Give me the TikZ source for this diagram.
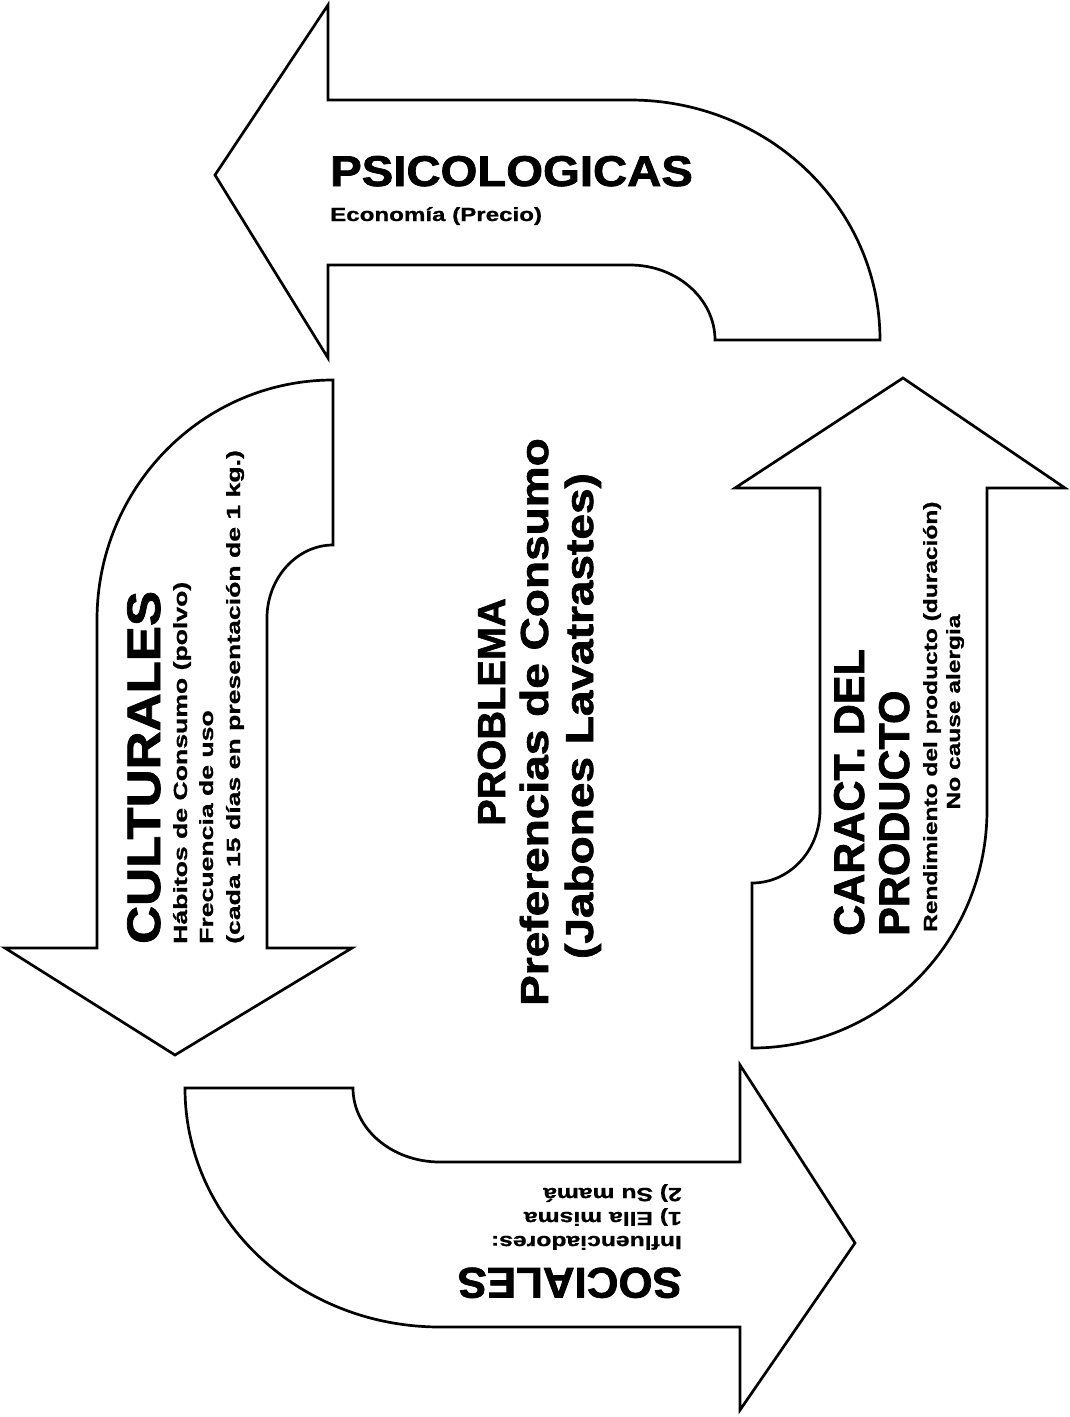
\documentclass[tikz,border=0pt]{standalone}
\usepackage{fontspec}
\usepackage{graphicx}
\setmainfont{Liberation Sans}[BoldFeatures={FakeBold=0.8}]
\newfontfamily\heavyfont{Liberation Sans}[BoldFeatures={FakeBold=1.6}]
\newcommand{\sx}[2]{\scalebox{#1}[1]{#2}}
\tikzset{
  arrowshape/.style={draw=black, line width=2.7pt, line join=miter, fill=white},
  ttl/.style={font=\heavyfont\bfseries\fontsize{43}{50}\selectfont, inner sep=0pt},
  big/.style={font=\heavyfont\bfseries\fontsize{47}{52}\selectfont, inner sep=0pt},
  mid/.style={font=\heavyfont\bfseries\fontsize{39}{46}\selectfont, inner sep=0pt},
  txt/.style={font=\bfseries\fontsize{19}{23}\selectfont, inner sep=0pt},
}
\begin{document}
\begin{tikzpicture}[x=1pt, y=-1pt]
\useasboundingbox (0,0) rectangle (1069,1417);
\fill[white] (0,0) rectangle (1069,1417);

% top arrow (pointing left)
\draw[arrowshape] (215,175) -- (328,5) -- (328,100) -- (630,100)
  .. controls (768,100) and (880,207) .. (880,340) -- (715,340)
  .. controls (715,299) and (677,265) .. (630,265) -- (328,265) -- (328,358) -- cycle;
% left arrow (pointing down)
\draw[arrowshape] (175,1055) -- (5,948) -- (97,948) -- (97,620)
  .. controls (97,487) and (203,380) .. (333,380) -- (333,545)
  .. controls (297,545) and (267,578) .. (267,618) -- (267,948) -- (352,948) -- cycle;
% right arrow (pointing up)
\draw[arrowshape] (903,378) -- (1065,488) -- (987,488) -- (987,810)
  .. controls (987,941) and (882,1048) .. (752,1048) -- (752,883)
  .. controls (790,883) and (820,850) .. (820,810) -- (820,488) -- (735,488) -- cycle;
% bottom arrow (pointing right)
\draw[arrowshape] (855,1243) -- (740,1410) -- (740,1327) -- (440,1327)
  .. controls (299,1327) and (185,1220) .. (185,1088) -- (353,1088)
  .. controls (353,1129) and (392,1162) .. (440,1162) -- (740,1162) -- (740,1065) -- cycle;

% top texts
\node[ttl, anchor=base west] (psi) at (330,186) {\sx{1.1}{PSICOLOGICAS}};
\node[txt, anchor=base west] (psiT) at (330,221) {\sx{1.27}{Economía (Precio)}};

% left texts
\node[big, rotate=90, anchor=base west] (cul) at (160,944) {\sx{1.12}{CULTURALES}};
\node[txt, rotate=90, anchor=base west] (culA) at (187,944) {\sx{1.4}{Hábitos de Consumo (polvo)}};
\node[txt, rotate=90, anchor=base west] (culB) at (213,944) {\sx{1.4}{Frecuencia de uso}};
\node[txt, rotate=90, anchor=base west] (culC) at (240,944) {\sx{1.4}{(cada 15 días en presentación de 1 kg.)}};

% centre texts
\node[mid, rotate=90, anchor=base] (probA) at (505,712) {\sx{1.02}{PROBLEMA}};
\node[mid, rotate=90, anchor=base] (probB) at (548,722) {\sx{1.18}{Preferencias de Consumo}};
\node[mid, rotate=90, anchor=base] (probC) at (593,716) {\sx{1.18}{(Jabones Lavatrastes)}};

% right texts
\node[ttl, rotate=90, anchor=base west] (carA) at (864,936) {CARACT. DEL};
\node[ttl, rotate=90, anchor=base west] (carB) at (909,936) {PRODUCTO};
\node[txt, rotate=90, anchor=base west] (carC) at (937,932) {\sx{1.29}{Rendimiento del producto (duración)}};
\node[txt, rotate=90, anchor=base] (carD) at (960,712) {\sx{1.29}{No cause alergia}};

% bottom texts
\node[ttl, rotate=180, anchor=base west] (soc) at (682,1268) {\sx{1.02}{SOCIALES}};
\node[txt, rotate=180, anchor=base west] (socA) at (682,1236) {\sx{1.3}{Influenciadores:}};
\node[txt, rotate=180, anchor=base west] (socB) at (682,1212) {\sx{1.3}{1) Ella misma}};
\node[txt, rotate=180, anchor=base west] (socC) at (682,1188) {\sx{1.3}{2) Su mamá}};
\end{tikzpicture}
\end{document}
